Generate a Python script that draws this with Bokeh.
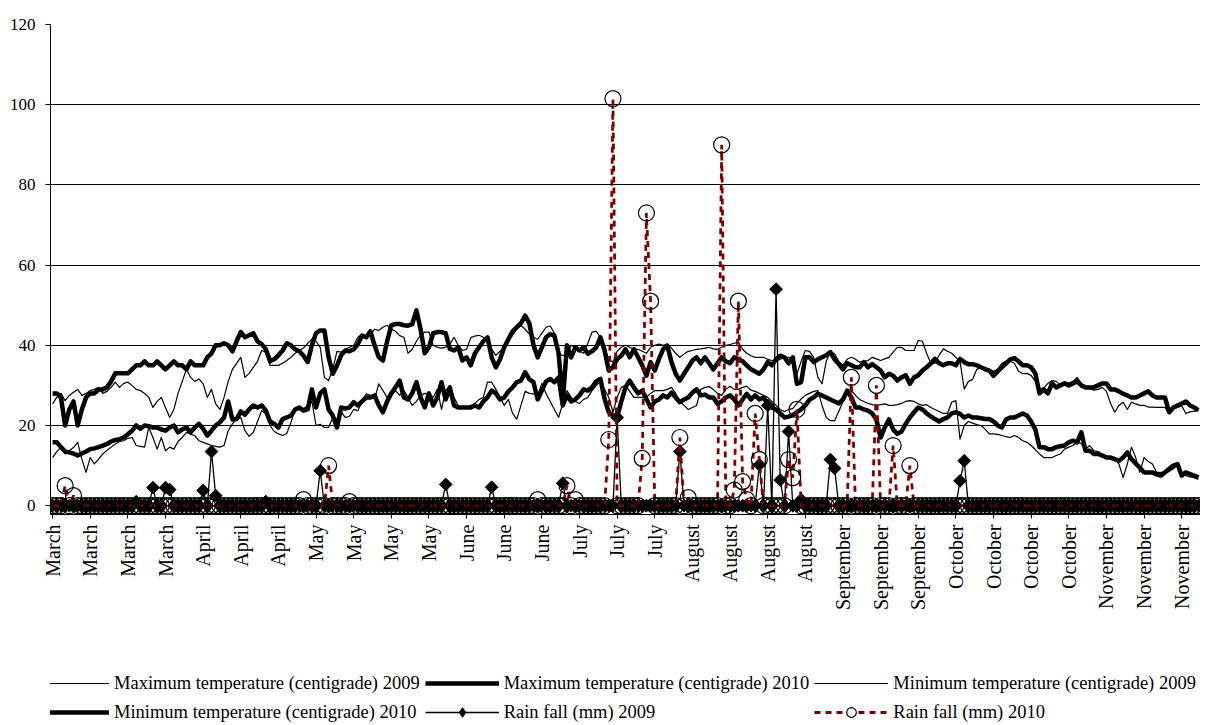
import math
from bokeh.plotting import figure
from bokeh.layouts import column
from bokeh.models import Range1d, FixedTicker, Legend, LegendItem
from bokeh.embed import file_html
from bokeh.resources import INLINE

# ---------------- data ----------------
# category axis: one category per day (1 March .. 30 November), label every 9th day
month_labels = ["March", "March", "March", "March", "April", "April", "April",
                "May", "May", "May", "May", "June", "June", "June",
                "July", "July", "July", "August", "August", "August", "August",
                "September", "September", "September",
                "October", "October", "October", "October",
                "November", "November", "November"]
label_step = 9
n_days = 275
days = list(range(n_days))

max_2009 = [
    25.4, 27, 28, 26.2, 27.5, 28.3, 29, 27.5, 28, 28.7, 29, 29.5, 28, 28.5, 29.5, 30.8, 29.5, 30.5, 30.8, 30,
    29, 28.7, 28, 27, 24.5, 26, 27, 24.5, 22, 24, 28, 31, 34, 32, 31, 31.6, 30.4, 27, 29, 25.4,
    24, 27, 31, 34, 35.5,
    37, 32, 33, 34.5, 36, 38.7, 38.3, 35, 35, 35, 35.5, 36.2, 37, 38, 38.7, 39.3, 40.5, 41.5, 41, 39.5,
    32, 31.2, 34, 38.5, 38.3, 39, 39.5, 40, 42, 42.8, 41.6, 42.5, 44, 43.7, 44.5, 45, 44, 43.5, 42.4, 42,
    38, 39, 41, 42.5, 43.3, 43.3, 40, 39.5, 39.3, 39.5, 40.3, 42, 40, 38.7, 39,
    41.9, 42.3, 42.5, 42, 41, 39, 37.5, 38.5, 39.5, 41, 42.5, 44, 45, 44, 42.8, 42, 41.5, 43, 44.5, 44.8,
    43, 38, 37.4, 37.9, 40, 39.5, 38.5, 38, 40.5, 43.3, 43.5, 42, 39, 36.5, 35.8, 38.5, 39.5, 40, 39.5, 39,
    39, 38.5, 38, 39.5, 40, 40.3, 40, 40.3, 39.3, 38, 37, 37.8, 38.5, 38.7, 39,
    39.1, 39.3, 39.5, 39.1, 39, 39.5, 40, 40.2, 40.5, 40.8, 39, 38, 37.4, 37, 37, 37, 36.5, 36.2, 36, 36.5,
    37, 37, 36.2, 32.9, 36, 38.7, 38.5, 37, 32, 30.4, 36, 38.3, 37.9, 36, 35, 36.5, 37, 36.5, 35.8, 36,
    36.2, 37, 36.6, 36.2, 36.6, 37, 38.3, 39.5, 39.5, 38.7, 38.7, 38.7, 41.2, 41,
    38, 35.5, 35.5, 37.5, 39.1, 38.5, 38, 37, 36, 29.1, 31, 31.5, 34, 34.5, 34.5, 34, 33.5, 34, 35.5, 36,
    36, 35.5, 33.5, 32.9, 33, 32.5, 31, 29.1, 29.3, 30.5, 31.2, 31, 30, 30.5, 30.5, 31, 32, 30.5, 29.5, 29.3,
    28.8, 29, 29.5, 28.5, 25.5, 23.3, 25, 25.8, 24, 25.8, 25.4, 25, 25, 24.6, 24.6, 24.5, 24.5, 24.5, 23, 24.2,
    24.5, 24.9, 23, 23.4, 23.6, 23.7]

max_2010 = [
    28, 28, 27, 20, 24, 26, 20, 24, 27, 28, 28, 29, 29, 29.5, 31, 33, 33, 33, 33, 34,
    35, 35, 36, 35, 35, 36, 35, 34, 35, 36, 35, 35, 34, 36, 35, 35, 35, 37, 38, 40,
    40, 40.5, 40, 38.5, 41,
    43.3, 42, 42.5, 43, 41, 40.3, 39, 36, 36.5, 37.5, 38.7, 40.5, 40, 39, 38.5, 37.4, 35.8, 40, 43, 43.7,
    43.7, 37, 32.9, 34.9, 37.5, 38.7, 38.5, 39, 40.3, 42.4, 42, 43.5, 40, 37, 36.2, 41, 45, 45.3, 45.3, 45,
    44.9, 45.3, 48.7, 44, 38, 39.5, 43, 43.3, 43.3, 43, 39.1, 38.7, 39.5, 36.2, 37,
    35, 38, 39.5, 41, 42, 37, 34.5, 36.5, 39.5, 41.5, 43.5, 44.5, 45.5, 47.4, 45.5, 40, 37, 39.5, 42, 42.8,
    42.4, 38, 26, 40, 37, 39.5, 38.7, 39.5, 37.9, 38.5, 39.5, 42, 38.7, 33.7, 34.5, 36.6, 37.4, 39, 37, 39,
    37, 35, 32.4, 35.8, 33.7, 36.6, 39, 39.9, 35.8, 32.9, 31.2, 32.9, 34.5, 36.2, 37,
    35.5, 37, 35.5, 34, 35.5, 37, 36, 35.5, 37, 36.5, 36, 35, 34, 33.5, 32.9, 34, 35.8, 35, 36.5, 37.4,
    37, 35.5, 37, 30.4, 30.8, 37, 37, 35.8, 36.5, 37, 37.5, 38.3, 36.5, 35.3, 34, 35.5, 35, 34.5, 34.5, 35.8,
    34.5, 35.3, 34.5, 33.7, 32, 32.9, 32.4, 31.2, 32, 32.5, 30.4, 32, 32.5, 33.7,
    34.5, 35.5, 36.6, 35.5, 35, 35.5, 35.5, 35, 36.6, 35.8, 35.3, 35.3, 35, 34.5, 34, 33.7, 32.4, 33.5, 34.5, 35.5,
    36.5, 36.8, 36, 35, 35, 34.5, 33, 28, 29, 28, 30.5, 29.5, 30, 30.5, 30, 30.5, 31, 30, 29.5, 29.5,
    29.5, 30, 30.5, 30.5, 29, 29, 28.5, 27.9, 27.5, 27, 27, 27.5, 28, 28.5, 27.5, 27, 27, 27, 23.3, 24.5,
    25, 25.5, 26, 25, 24.5, 23.8]

min_2009 = [
    12, 13.5, 14.6, 12.9, 13.7, 14.5, 15.8, 11.6, 8.3, 12, 10.4, 11.6, 12.9, 13.8, 14.6, 15.4, 16, 16.2, 16.8, 17,
    15, 14.8, 14.6, 19.5, 17, 14.1, 17, 13.7, 14.6, 14.1, 16, 17, 18.3, 17.8, 17.5, 16.2, 15.8, 15.4, 15, 14.8,
    14.6, 15, 18.7, 20.4, 21.6,
    22, 18.7, 17.3, 18.3, 21, 23.7, 23, 20, 18.5, 17.9, 17.5, 18, 20.8, 24, 24.5, 24.2, 25, 26, 20, 20.3,
    19.5, 19.5, 22, 21.6, 23.3, 22, 22.3, 24, 23.7, 26, 27.9, 27.5, 26.5, 30.4, 28.7, 27, 28, 28.7, 27.5, 28.7,
    27, 25, 26, 27.5, 28, 27.9, 27, 29, 24, 28.7, 30, 27, 25, 24.5, 24.5,
    25, 25.5, 26.5, 27, 30.8, 30.8, 29, 27, 25, 26.5, 23, 21.6, 25, 28.5, 28, 27.9, 27.5, 30.5, 28, 26,
    24, 22, 25.5, 28.7, 27, 26, 25.5, 26.5, 27, 28.7, 30, 31, 29, 27, 23.3, 27, 29.5, 30, 28.5, 27,
    27, 27, 27, 28, 28.7, 28.7, 28.7, 29, 29.5, 28, 26, 25, 24, 24.5, 25,
    29, 29.5, 29.7, 29, 28, 27.5, 29, 29.8, 29, 29, 29.5, 29.8, 28.8, 28.5, 28, 27.5, 27, 26, 25, 24,
    23.5, 24, 24.2, 25.5, 26.6, 27.5, 28, 28.5, 28.7, 25, 22, 21.2, 21.2, 23.5, 26, 28, 28.7, 27.5, 26.5, 26,
    25.5, 25.2, 25, 25.2, 25.4, 25, 25, 25.2, 25.5, 26, 26.2, 26, 25.4, 25,
    25.2, 24.5, 24, 23.5, 23, 23, 25.8, 26.2, 16.6, 20, 21, 20.6, 20.2, 20, 19.1, 17.9, 17.9, 17.8, 17.5, 17.2,
    17, 17.5, 17, 16.2, 15.8, 15, 14, 12.9, 12, 12, 12, 12.5, 12.9, 14.1, 14.6, 15, 15.8, 15.5, 14.1, 15,
    13.7, 13.5, 12.9, 12, 11.8, 11.6, 10.4, 7, 10.4, 14.6, 12, 8.3, 12, 11, 10.4, 8.3, 8.3, 8.3, 8.5, 9.2,
    10, 8.3, 7.5, 7.2, 7, 6.6]

min_2010 = [
    15.8, 15.8, 14.6, 13.5, 13.3, 13, 12.5, 13, 13.5, 14.1, 14.3, 14.6, 15, 15.4, 16, 16.4, 16.6, 17, 17.8, 18.7,
    20, 19.2, 20, 19.8, 19.5, 19.5, 19, 18.7, 19.5, 20, 18.3, 19, 19.5, 18.3, 19.5, 20.4, 19.2, 17.5, 18.7, 20,
    20.8, 22, 26, 21.5, 21.6,
    23.5, 22.7, 24, 25, 24.5, 25, 23.7, 21, 20.4, 19.5, 21.6, 22, 22.5, 24, 24.5, 23.7, 24, 29, 24.5, 28,
    29, 24, 22.5, 19.5, 24.5, 24.2, 24.5, 25.8, 25, 26, 27, 27, 27.5, 25, 23.3, 26, 28, 29.5, 31.2, 27,
    26.5, 28, 30.8, 27, 24.5, 28, 25, 27, 30.8, 26.5, 29.5, 25, 24.5, 24.5, 24.5,
    24.5, 25, 24.5, 26, 27, 28.7, 28, 26.5, 27, 28.5, 29.5, 30.8, 31.2, 33.3, 31.5, 30.8, 26.5, 28.7, 31, 31.6,
    30.8, 32, 25, 27.5, 26, 26.5, 27.5, 29, 28.7, 29.5, 31, 31.6, 26.6, 23.3, 22.5, 22, 26, 29.5, 31.2, 29.5,
    28, 28.7, 26.6, 24.5, 26, 26.5, 27.5, 27, 28.2, 27, 25.8, 26.5, 27, 28.2, 29,
    27.5, 27.7, 27, 27, 25.4, 26, 27, 27.5, 26.5, 25, 26.5, 27.9, 26.5, 27.5, 26.5, 27, 25.5, 24.5, 24, 23,
    22, 22.2, 22.6, 23.3, 24, 25, 26.4, 27, 27.9, 27.5, 27, 26.5, 26, 25.5, 26.5, 28.7, 27, 24.5, 24.5, 24,
    23.7, 23, 21.5, 17, 19.5, 21.5, 19, 17.9, 18.5, 20.4, 22, 23.3, 24.5, 24,
    23, 22.3, 21.6, 21, 21.6, 22, 23, 23.3, 22.9, 22, 22.5, 22, 22, 21.8, 21.6, 21.6, 21, 20, 19.5, 21.5,
    22, 22, 22.5, 23, 22.5, 21, 19, 14.6, 14.6, 14.1, 14.1, 14.6, 14.8, 15, 15.8, 16.2, 15.8, 18.3, 13.7, 13.7,
    12.9, 12.9, 12.5, 12, 12, 11.6, 11.2, 12, 13.3, 11.6, 10.5, 9.5, 8.3, 8.3, 8.3, 7.8, 7.5, 8.3, 9.2, 10,
    10.4, 7.5, 8.3, 7.9, 7.5, 7]

# rainy days (day index) and rain amounts; every other day is 0 mm
rain_2009_day = [20, 24, 27, 28, 36, 38, 39, 51, 64, 94, 105, 122, 135, 150, 169, 171, 173, 174, 176, 179, 186, 187, 217, 218]
rain_2009_mm = [1, 4.5, 4.5, 4, 3.8, 13.5, 2.5, 1, 8.7, 5.3, 4.6, 5.6, 22, 13.5, 10.2, 25, 54, 6.4, 18.5, 1.5, 11.5, 9.3, 6.2, 11.2]

rain_2010_day = [3, 5, 60, 66, 71, 116, 123, 125, 133, 134, 141, 142, 143, 150, 152, 160, 163, 164, 165, 166, 168, 169, 176, 177, 178, 191, 197, 201, 205]
rain_2010_mm = [5, 2.5, 1.5, 10, 1, 1.5, 5, 1.5, 16.5, 101.5, 11.8, 73, 51, 17, 2, 90, 3.9, 51, 6, 1.5, 23, 11.5, 11.5, 7, 24, 32, 30, 15, 10]

series_names = ["Maximum temperature (centigrade) 2009", "Maximum temperature (centigrade) 2010",
                "Minimum temperature (centigrade) 2009", "Minimum temperature (centigrade) 2010",
                "Rain fall (mm) 2009", "Rain fall (mm) 2010"]
y_ticks = [0, 20, 40, 60, 80, 100, 120]

# ---------------- build ----------------
rain_2009 = [0.0] * n_days
for d, v in zip(rain_2009_day, rain_2009_mm):
    rain_2009[d] = v
rain_2010 = [0.0] * n_days
for d, v in zip(rain_2010_day, rain_2010_mm):
    rain_2010[d] = v

FONT = "Liberation Serif"
DARKRED = "#800000"
W = 1200

p = figure(width=W, height=624, x_range=Range1d(-0.5, n_days - 0.5), y_range=Range1d(-2.2, 120),
           output_backend="svg", toolbar_location=None,
           min_border_left=50, min_border_right=0, min_border_top=24, min_border_bottom=110)
p.outline_line_color = None
p.background_fill_color = "white"
p.border_fill_color = "white"

p.xgrid.grid_line_color = None
p.ygrid.ticker = FixedTicker(ticks=y_ticks)
p.ygrid.grid_line_color = "black"
p.ygrid.grid_line_width = 1

p.yaxis.ticker = FixedTicker(ticks=y_ticks)
p.yaxis.major_label_text_font = FONT
p.yaxis.major_label_text_font_size = "17px"
p.yaxis.major_label_text_color = "black"
p.yaxis.major_tick_out = 5
p.yaxis.major_tick_in = 0
p.yaxis.minor_tick_line_color = None
p.yaxis.major_label_standoff = 10
p.yaxis.axis_line_color = "black"

tick_pos = list(range(0, n_days, label_step))
p.xaxis.ticker = FixedTicker(ticks=tick_pos)
p.xaxis.major_label_overrides = {t: lab for t, lab in zip(tick_pos, month_labels)}
p.xaxis.major_label_orientation = math.pi / 2
p.xaxis.major_label_text_font = FONT
p.xaxis.major_label_text_font_size = "20px"
p.xaxis.major_label_text_color = "black"
p.xaxis.major_tick_out = 4
p.xaxis.major_tick_in = 0
p.xaxis.minor_tick_line_color = None
p.xaxis.major_label_standoff = 6
p.xaxis.axis_line_color = "black"

line_styles = [dict(line_color="black", line_width=1.2, line_join="round"),
               dict(line_color="black", line_width=4.5, line_join="round"),
               dict(line_color="black", line_width=1.2, line_join="round"),
               dict(line_color="black", line_width=4.5, line_join="round"),
               dict(line_color="black", line_width=1.3),
               dict(line_color=DARKRED, line_width=2.8, line_dash="6 5")]
marker_09 = dict(marker="square", angle=math.pi / 4, size=9, fill_color="black", line_color="black")
marker_10 = dict(marker="circle", size=16, fill_color=None, line_color="black", line_width=1.2)

p.line(days, max_2009, **line_styles[0])
p.line(days, max_2010, **line_styles[1])
p.line(days, min_2009, **line_styles[2])
p.line(days, min_2010, **line_styles[3])
p.line(days, rain_2009, **line_styles[4])
p.scatter(days, rain_2009, **marker_09)
p.line(days, rain_2010, **line_styles[5])
p.scatter(days, rain_2010, **marker_10)

# ---- legend strip (own figure; its glyph renderers sit outside its visible range) ----
lg = figure(width=W, height=100, x_range=Range1d(0, 1), y_range=Range1d(0, 1),
            output_backend="svg", toolbar_location=None, x_axis_type=None, y_axis_type=None,
            min_border=0)
lg.outline_line_color = None
lg.grid.visible = False
off_x = [-5, -4]
off_y = [-5, -4]
rends = []
for st in line_styles[:4]:
    rends.append([lg.line(off_x, off_y, **st)])
rends.append([lg.line(off_x, off_y, **line_styles[4]),
              lg.scatter(off_x, off_y, marker="diamond", fill_color="black", line_color="black")])
rends.append([lg.line(off_x, off_y, **line_styles[5]),
              lg.scatter(off_x, off_y, marker="circle", fill_color="white", line_color="black", line_width=1.2)])

items = [LegendItem(label=name, renderers=r) for name, r in zip(series_names, rends)]
legend = Legend(items=items, orientation="horizontal", ncols=3, location=(-15, 0))
legend.border_line_color = None
legend.background_fill_alpha = 0
legend.label_text_font = FONT
legend.label_text_font_size = "18.5px"
legend.label_text_color = "black"
legend.glyph_width = 74
legend.glyph_height = 24
legend.label_height = 20
legend.label_standoff = 5
legend.spacing = 5
legend.padding = 0
legend.margin = 0
lg.add_layout(legend)

layout = column(p, lg, spacing=0)
open("out.html", "w").write(file_html(layout, INLINE))
